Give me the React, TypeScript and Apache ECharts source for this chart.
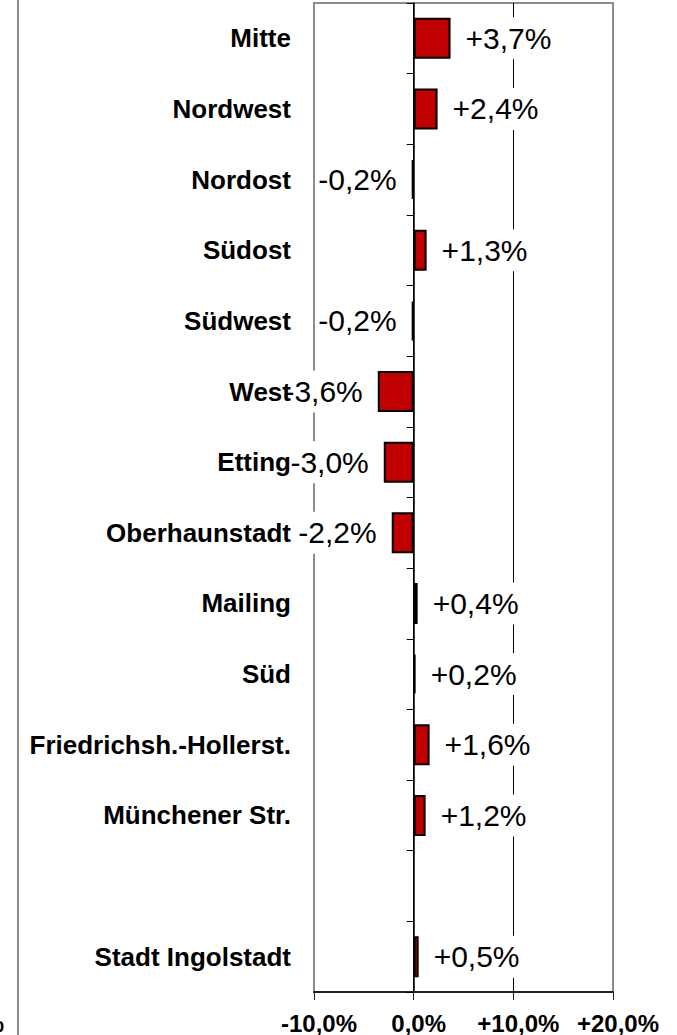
import React, { useEffect, useRef } from "react";
import * as echarts from "echarts";

const categories = [
  "Mitte",
  "Nordwest",
  "Nordost",
  "Südost",
  "Südwest",
  "West",
  "Etting",
  "Oberhaunstadt",
  "Mailing",
  "Süd",
  "Friedrichsh.-Hollerst.",
  "Münchener Str.",
  "",
  "Stadt Ingolstadt",
];
const changes: (number | null)[] = [3.7, 2.4, -0.2, 1.3, -0.2, -3.6, -3.0, -2.2, 0.4, 0.2, 1.6, 1.2, null, 0.5];
const xMin = -10;
const xMax = 20;
const xStep = 10;

const FONT = "'Liberation Sans', Arial, sans-serif";

function fmt(v: number, digits: number): string {
  const s = Math.abs(v).toFixed(digits).replace(".", ",");
  if (v > 0) return "+" + s + "%";
  if (v < 0) return "-" + s + "%";
  return s + "%";
}

export default function App() {
  const ref = useRef<HTMLDivElement>(null);
  useEffect(() => {
    if (!ref.current) return;
    const chart = echarts.init(ref.current, null, { renderer: "svg" });
    const data = changes.map((v) =>
      v === null
        ? "-"
        : {
            value: v,
            label: {
              position: v < 0 ? "left" : "right",
            },
          }
    );
    chart.setOption({
      animation: false,
      backgroundColor: "#ffffff",
      grid: {
        left: 314,
        right: 64,
        top: 3,
        bottom: 43,
        show: true,
        borderColor: "#8c8c8c",
        borderWidth: 2,
        backgroundColor: "transparent",
      },
      xAxis: {
        type: "value",
        min: xMin,
        max: xMax,
        interval: xStep,
        axisLine: { show: true, onZero: false, lineStyle: { color: "#222222", width: 2 } },
        axisTick: { show: true, length: 8, lineStyle: { color: "#222222", width: 1 } },
        axisLabel: {
          margin: 19,
          color: "#000000",
          fontFamily: FONT,
          fontWeight: "bold",
          fontSize: 24,
          padding: [0, 0, 0, 10],
          formatter: (v: number) => fmt(v, 1),
        },
        splitLine: {
          show: true,
          lineStyle: { color: ["#8c8c8c", "#000000", "#000000", "#8c8c8c"], width: 1 },
        },
      },
      yAxis: [
        {
          type: "category",
          data: categories,
          inverse: true,
          position: "left",
          z: 10,
          axisLine: { show: false, onZero: false },
          axisTick: { show: false },
          splitLine: { show: false },
          axisLabel: {
            interval: 0,
            margin: 23,
            color: "#000000",
            fontFamily: FONT,
            fontWeight: "bold",
            fontSize: 26,
          },
        },
        {
          type: "category",
          data: categories,
          inverse: true,
          position: "left",
          axisLine: { show: true, onZero: true, lineStyle: { color: "#000000", width: 1.5 } },
          axisTick: { show: true, length: 7, lineStyle: { color: "#000000", width: 1 } },
          axisLabel: { show: false },
          splitLine: { show: false },
        },
      ],
      series: [
        {
          type: "bar",
          yAxisIndex: 0,
          data,
          barWidth: "58%",
          itemStyle: { color: "#c00000", borderColor: "#000000", borderWidth: 2 },
          label: {
            show: true,
            distance: 15,
            color: "#000000",
            fontFamily: FONT,
            fontSize: 30,
            lineHeight: 36,
            backgroundColor: "#ffffff",
            padding: [3, 0],
            formatter: (p: any) => fmt(p.value, 1),
          },
          z: 3,
        },
      ],
      graphic: [
        {
          type: "line",
          shape: { x1: 18, y1: 0, x2: 18, y2: 1035 },
          style: { stroke: "#8c8c8c", lineWidth: 2 },
        },
        {
          type: "text",
          x: 4,
          y: 1023,
          style: {
            text: "+20,0%",
            align: "right",
            verticalAlign: "middle",
            fill: "#000000",
            font: "bold 24px 'Liberation Sans', Arial, sans-serif",
          },
        },
      ],
    });
    return () => chart.dispose();
  }, []);
  return (
    <div
      ref={ref}
      style={{ position: "fixed", left: 0, top: 0, width: 677, height: 1035, background: "#fff" }}
    />
  );
}
